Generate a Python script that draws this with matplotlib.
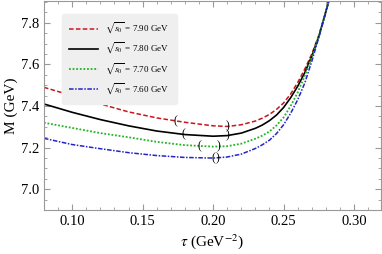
import matplotlib
matplotlib.use('Agg')
import matplotlib.pyplot as plt
from matplotlib.ticker import MultipleLocator

plt.rcParams['font.family'] = ['Liberation Serif', 'DejaVu Serif']
plt.rcParams['mathtext.fontset'] = 'stix'

tau = [0.08, 0.10, 0.12, 0.14, 0.16, 0.18, 0.20, 0.21, 0.22, 0.23, 0.235,
       0.24, 0.245, 0.25, 0.255, 0.26, 0.265, 0.27, 0.275, 0.28, 0.285]
m_790 = [7.49, 7.45, 7.41, 7.372, 7.343, 7.322, 7.305, 7.302, 7.31, 7.328,
         7.342, 7.36, 7.384, 7.415, 7.458, 7.513, 7.577, 7.65, 7.74, 7.855, 7.98]
m_780 = [7.41, 7.37, 7.335, 7.305, 7.28, 7.263, 7.255, 7.258, 7.27, 7.293,
         7.309, 7.33, 7.357, 7.393, 7.44, 7.495, 7.56, 7.64, 7.735, 7.855, 7.98]
m_770 = [7.32, 7.295, 7.27, 7.25, 7.228, 7.212, 7.205, 7.207, 7.219, 7.243,
         7.258, 7.278, 7.307, 7.345, 7.40, 7.465, 7.545, 7.635, 7.735, 7.855, 7.98]
m_760 = [7.245, 7.215, 7.195, 7.176, 7.162, 7.153, 7.15, 7.155, 7.169, 7.196,
         7.214, 7.236, 7.268, 7.31, 7.365, 7.43, 7.51, 7.615, 7.73, 7.85, 7.98]

labels = [r'$\sqrt{s_0}$ = 7.90 GeV', r'$\sqrt{s_0}$ = 7.80 GeV',
          r'$\sqrt{s_0}$ = 7.70 GeV', r'$\sqrt{s_0}$ = 7.60 GeV']

# working-window brackets: (tau_left, M_left, tau_right, M_right)
win_790 = (0.173, 7.325, 0.21, 7.302)
win_780 = (0.179, 7.262, 0.21, 7.258)
win_770 = (0.19, 7.208, 0.204, 7.207)
win_760 = (0.20, 7.150, 0.2035, 7.150)

fig = plt.figure(figsize=(3.82, 2.54), dpi=100)
ax = fig.add_axes([0.115, 0.173, 0.882, 0.823])

ax.plot(tau, m_790, color='#c8161d', ls=(0, (3, 1.5)), lw=1.1, label=labels[0])
ax.plot(tau, m_780, color='black', ls='-', lw=1.2, label=labels[1])
ax.plot(tau, m_770, color='#22b422', ls=(0, (1, 1)), lw=1.3, label=labels[2])
ax.plot(tau, m_760, color='#2424c8', ls=(0, (3, 1, 1, 1)), lw=1.1, label=labels[3])

for w in [win_790, win_780, win_770, win_760]:
    ax.text(w[0], w[1], '(', ha='center', va='center', fontsize=8.5)
    ax.text(w[2], w[3], ')', ha='center', va='center', fontsize=8.5)

ax.set_xlim(0.08, 0.319)
ax.set_ylim(6.9, 7.905)
ax.xaxis.set_major_locator(MultipleLocator(0.05))
ax.xaxis.set_minor_locator(MultipleLocator(0.01))
ax.yaxis.set_major_locator(MultipleLocator(0.2))
ax.yaxis.set_minor_locator(MultipleLocator(0.05))
ax.xaxis.set_major_formatter(matplotlib.ticker.FormatStrFormatter('%.2f'))
ax.yaxis.set_major_formatter(matplotlib.ticker.FormatStrFormatter('%.1f'))
ax.tick_params(which='both', direction='in', top=True, right=True,
               color='#999999', labelsize=10.5)
ax.tick_params(which='major', length=4)
ax.tick_params(which='minor', length=2)
for s in ax.spines.values():
    s.set_color('#999999')

ax.set_xlabel(r'$\tau$ (GeV$^{-2}$)', fontsize=11, labelpad=3)
ax.set_ylabel('M (GeV)', fontsize=11, labelpad=2)

leg = ax.legend(loc='upper left', bbox_to_anchor=(0.04, 0.96), fontsize=6.5,
                frameon=True, fancybox=True, framealpha=1, handlelength=3.2,
                borderpad=0.8, labelspacing=0.55)
leg.get_frame().set_facecolor('#efefef')
leg.get_frame().set_edgecolor('#efefef')

fig.savefig('out.png', dpi=100)
